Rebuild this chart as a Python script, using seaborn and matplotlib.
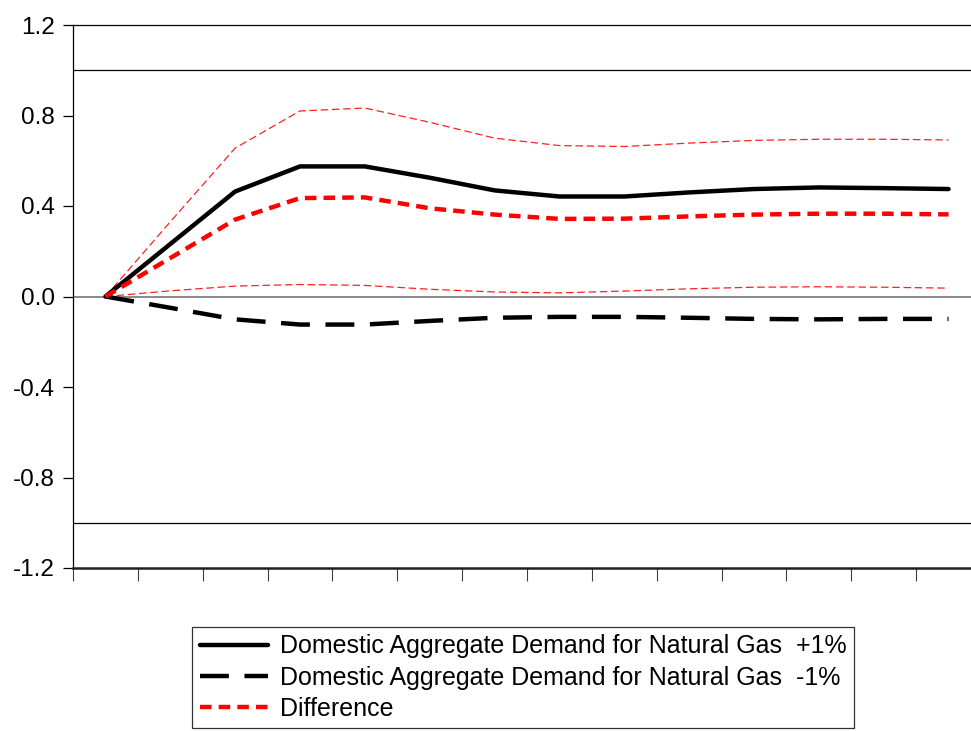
import numpy as np
import pandas as pd
import matplotlib
matplotlib.use('Agg')
import matplotlib.pyplot as plt
import seaborn as sns

sns.set_style('white')
plt.rcParams['font.family'] = ['Liberation Sans', 'DejaVu Sans']
plt.rcParams['text.color'] = 'k'

# impulse responses, periods 1..14
periods = np.arange(1, 15)
plus1 = [0.0, 0.232, 0.464, 0.575, 0.575, 0.525, 0.469, 0.442, 0.442, 0.460, 0.475, 0.482, 0.479, 0.475]
minus1 = [0.0, -0.05, -0.101, -0.124, -0.124, -0.108, -0.094, -0.090, -0.090, -0.094, -0.099, -0.101, -0.099, -0.099]
diff = [0.0, 0.17, 0.34, 0.435, 0.438, 0.39, 0.362, 0.343, 0.344, 0.354, 0.362, 0.366, 0.366, 0.363]
diff_hi = [0.0, 0.33, 0.656, 0.82, 0.833, 0.77, 0.70, 0.667, 0.663, 0.678, 0.69, 0.695, 0.695, 0.692]
diff_lo = [0.0, 0.025, 0.046, 0.053, 0.049, 0.032, 0.02, 0.016, 0.024, 0.034, 0.041, 0.043, 0.041, 0.037]

labels = ['Domestic Aggregate Demand for Natural Gas  +1%',
          'Domestic Aggregate Demand for Natural Gas  -1%',
          'Difference']
yticks = [-1.2, -0.8, -0.4, 0.0, 0.4, 0.8, 1.2]

df = pd.DataFrame({'Period': periods, 'plus': plus1, 'minus': minus1,
                   'diff': diff, 'hi': diff_hi, 'lo': diff_lo})

fig = plt.figure(figsize=(9.71, 7.31), dpi=100)
ax = fig.add_axes([73/971, 163/731, 908/971, 543/731])

# reference lines
ax.axhline(1.0, color='k', lw=0.9, zorder=1)
ax.axhline(-1.0, color='k', lw=0.9, zorder=1)
ax.axhline(0.0, color='#808080', lw=1.3, zorder=1)

# confidence bands of the difference
for col in ['hi', 'lo']:
    sns.lineplot(data=df, x='Period', y=col, ax=ax, color='#ff2020', lw=0.9,
                 zorder=2).lines[-1].set_dashes([6, 3])

sns.lineplot(data=df, x='Period', y='plus', ax=ax, color='k', lw=3.2,
             label=labels[0], zorder=3)
l2 = sns.lineplot(data=df, x='Period', y='minus', ax=ax, color='k', lw=3.2,
                  label=labels[1], zorder=3).lines[-1]
l2.set_dashes([6.5, 3.5])
l3 = sns.lineplot(data=df, x='Period', y='diff', ax=ax, color='#ff0000', lw=3.2,
                  label=labels[2], zorder=4).lines[-1]
l3.set_dashes([2.6, 1.6])

ax.set_xlim(0.5, 14.5)
ax.set_ylim(-1.2, 1.2)
ax.set_yticks(yticks)
ax.set_yticklabels([f'{v:.1f}' for v in yticks])
ax.set_xticks(np.arange(0.5, 15, 1))
ax.set_xticklabels([])
ax.set_xlabel('')
ax.set_ylabel('')
ax.tick_params(axis='y', direction='out', length=7, width=0.9, left=True,
               labelsize=17.5, pad=6, color='k', labelcolor='k')
ax.tick_params(axis='x', direction='out', length=9, width=0.8, bottom=True,
               color='#404040')
for s in ['left', 'top']:
    ax.spines[s].set_color('k')
    ax.spines[s].set_linewidth(0.9)
ax.spines['bottom'].set_color('#202020')
ax.spines['bottom'].set_linewidth(1.8)
ax.spines['right'].set_visible(False)

handles, labs = ax.get_legend_handles_labels()
ax.get_legend().remove()
leg = fig.legend(handles, labs, loc='upper left',
                 bbox_to_anchor=(192/971, 1 - 627/731), bbox_transform=fig.transFigure,
                 borderaxespad=0, fancybox=False, frameon=True, fontsize=18,
                 handlelength=2.75, handletextpad=0.45, labelspacing=0.28,
                 borderpad=0.3)
leg.get_frame().set_edgecolor('k')
leg.get_frame().set_linewidth(0.9)
for t in leg.get_texts():
    t.set_color('k')

fig.savefig('out.png', dpi=100)
